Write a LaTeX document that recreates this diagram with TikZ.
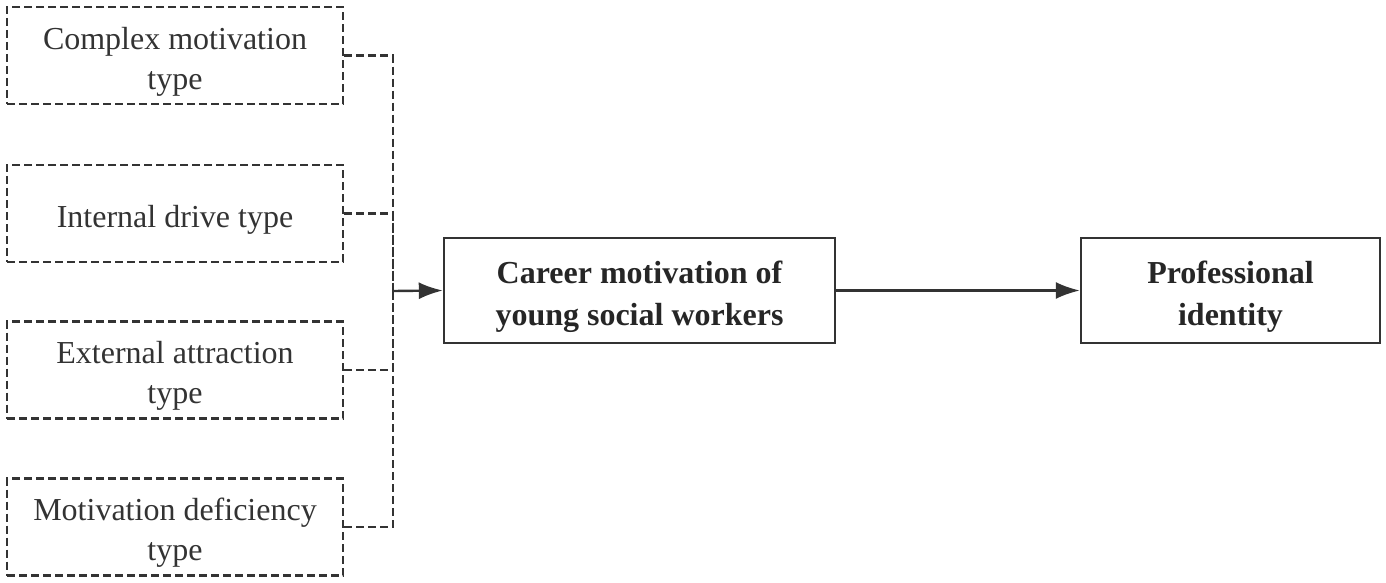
\documentclass[tikz,border=0pt]{standalone}
\usepackage{fontspec}
\setmainfont{Liberation Serif}
\usetikzlibrary{arrows.meta}
\begin{document}
\begin{tikzpicture}[x=1pt,y=-1pt,
  typebox/.style={draw=black!80, line width=2.2pt, dash pattern=on 8pt off 4pt, minimum width=336pt, minimum height=97pt, inner sep=0pt},
  typetext/.style={align=center, inner sep=0pt, yshift=-6pt, font=\fontsize{32}{40}\selectfont, text=black!80},
  mainbox/.style={draw=black!80, line width=2.4pt, minimum height=105pt, inner sep=0pt},
  maintext/.style={align=center, inner sep=0pt, yshift=-6pt, font=\fontsize{32}{42}\selectfont\bfseries, text=black!85},
  dashlink/.style={draw=black!80, line width=2.2pt, dash pattern=on 8pt off 4pt},
  arr/.style={draw=black!80, line width=2.4pt, -{Latex[length=24pt,width=17pt]}}]
\useasboundingbox (0,0) rectangle (1386,583);
\node[typebox, label={[typetext]center:Complex motivation\\type}] (t1) at (175,55.5) {};
\node[typebox, label={[typetext]center:Internal drive type}] (t2) at (175,213.5) {};
\node[typebox, label={[typetext]center:External attraction\\type}] (t3) at (175,370) {};
\node[typebox, label={[typetext]center:Motivation deficiency\\type}] (t4) at (175,527) {};
\node[mainbox, minimum width=391pt, label={[maintext]center:Career motivation of\\young social workers}] (cm) at (639.5,290.5) {};
\node[mainbox, minimum width=299pt, label={[maintext]center:Professional\\identity}] (pi) at (1230.5,290.5) {};
\coordinate (j) at (393,291);
\draw[dashlink] (t1.east) -| (j);
\draw[dashlink] (t2.east) -| (j);
\draw[dashlink] (t3.east) -| (j);
\draw[dashlink] (t4.east) -| (j);
\draw[arr] (j) -- (cm.west);
\draw[arr] (cm.east) -- (pi.west);
\end{tikzpicture}
\end{document}
